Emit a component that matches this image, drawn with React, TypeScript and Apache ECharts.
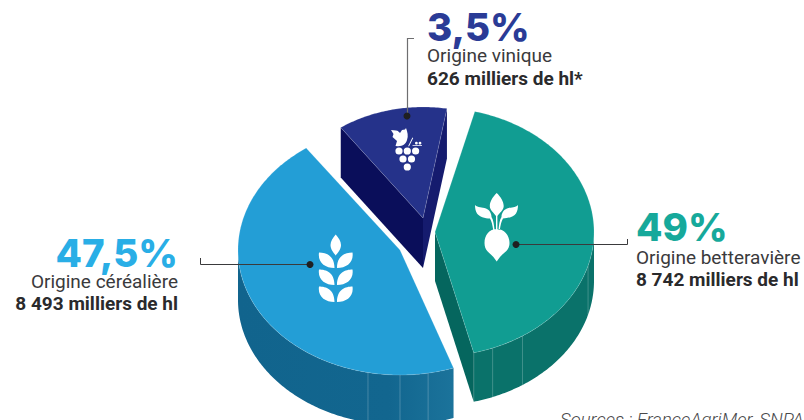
import React, { useEffect, useRef } from "react";
import * as echarts from "echarts";

// ---- data ----
const categories = ["Origine céréalière", "Origine betteravière", "Origine vinique"];
const shareLabels = ["47,5%", "49%", "3,5%"];
const volumeLabels = ["8 493 milliers de hl", "8 742 milliers de hl", "626 milliers de hl*"];
const shares = [47.5, 49, 3.5];
const volumes = [8493, 8742, 626];
// the artwork is not drawn to scale: angle each slice really takes in the picture
const drawnSweeps = [163.9, 151.4, 45.1];
const sourceText = "Sources : FranceAgriMer, SNPAA";

// ---- layout ----
const slices = [
  { cx: 400, cy: 250, rx: 162, ry: 125, start: 160.7, depth: 50, top: "#239ed6", ribs: [191.4, 180, 170],
    wall: ["#11648d", "#12668f", "#1b739b"], cuts: [] as any[] },
  { cx: 435, cy: 232, rx: 159, ry: 124.5, start: 14.5, depth: 49, top: "#119d92", ribs: [165.9, 158.75, 146.6, 105.7],
    wall: ["#0a726a", "#0a726a", "#0a726a"], cuts: [{ edge: "end", fill: "#05665e" }] },
  { cx: 423, cy: 218, rx: 142, ry: 111, start: -35.4, depth: 50, top: "#25328a", ribs: [],
    wall: ["#000", "#000", "#000"], cuts: [{ edge: "start", fill: "#0a0e5a" }, { edge: "end", fill: "#151b6e" }] },
];

const FONT = "Roboto";
const HEAD = "Inter";

const wheatLeaf = (y: number) =>
  `M319 ${y} C326 ${y} 334.5 ${y + 3} 334.5 ${y + 15.5} C325 ${y + 15.5} 317.5 ${y + 10} 319 ${y} Z ` +
  `M352.5 ${y} C345.5 ${y} 337 ${y + 3} 337 ${y + 15.5} C346.5 ${y + 15.5} 354 ${y + 10} 352.5 ${y} Z `;
const wheatPath =
  "M335.7 234.5 C338.5 238 341 241 341 245 C341 249.5 338 252.5 335.7 255.5 C333.4 252.5 330.5 249.5 330.5 245 C330.5 241 333 238 335.7 234.5 Z " +
  wheatLeaf(252.5) + wheatLeaf(269.5) + wheatLeaf(286.5);

const grapeBerry = (x: number, y: number) =>
  `M${x - 3.6} ${y} A3.6 3.6 0 1 1 ${x + 3.6} ${y} A3.6 3.6 0 1 1 ${x - 3.6} ${y} Z `;
const grapePath =
  "M391 130 L396 130.5 C398 130.5 399 132 400 133 L402 130 L405 129.5 L406 128 C407.5 132 408.5 136 407 140 C406 144 402 147 396 146 L395.5 146 L397 141 L392.5 137 L393.5 134 Z " +
  "M408.2 146 L412.4 137.5 L413.2 138 L409 146.5 Z M412.5 145.3 L422 145.3 L422 146 L412.5 146 Z " +
  grapeBerry(399, 151) + grapeBerry(407.3, 151) + grapeBerry(415.6, 151) +
  grapeBerry(403, 159) + grapeBerry(411.5, 159) + grapeBerry(407.3, 167) +
  "M415 143.2 A1.4 1.4 0 1 1 417.8 143.2 A1.4 1.4 0 1 1 415 143.2 Z M418.6 143.2 A1.4 1.4 0 1 1 421.4 143.2 A1.4 1.4 0 1 1 418.6 143.2 Z";

const beetPath =
  "M496.7 229 C504 229 509.5 235 509.5 243 C509.5 251 503 253 500 257 L496.7 261.5 L493.4 257 C490 253 484.5 251 484.5 243 C484.5 235 489.5 229 496.7 229 Z " +
  "M496.7 193 C501 197 503.7 202 503.7 206 C503.7 210 500 212.5 497.4 216 L497.4 230 L496 230 L496 216 C493.5 212.5 489.8 210 489.8 206 C489.8 202 492.5 197 496.7 193 Z " +
  "M475 205 C478 208 482 207 486 208.5 C490 210 491.5 214 491.5 217 C493.5 220 494 225 494.5 230 L493.2 230 C492.5 225 491.5 221 490 218.5 C485 218.5 479 216.5 477 213.5 C475.5 211 475 208 475 205 Z " +
  "M518 205 C515 208 511 207 507 208.5 C503 210 501.5 214 501.5 217 C499.5 220 499 225 498.5 230 L499.8 230 C500.5 225 501.5 221 503 218.5 C508 218.5 514 216.5 516 213.5 C517.5 211 518 208 518 205 Z";

echarts.graphic.registerShape("wheatIcon", echarts.graphic.extendPath(wheatPath, {}));
echarts.graphic.registerShape("grapeIcon", echarts.graphic.extendPath(grapePath, {}));
echarts.graphic.registerShape("beetIcon", echarts.graphic.extendPath(beetPath, {}));

const rad = (d: number) => (d * Math.PI) / 180;
const rim = (s: any, deg: number, dy = 0): number[] => [
  s.cx + s.rx * Math.sin(rad(deg)),
  s.cy - s.ry * Math.cos(rad(deg)) + dy,
];
const arc = (s: any, a: number, b: number, dy = 0) => {
  const n = Math.max(2, Math.ceil(Math.abs(b - a) / 0.75));
  const pts: number[][] = [];
  for (let i = 0; i <= n; i++) pts.push(rim(s, a + ((b - a) * i) / n, dy));
  return pts;
};

const renderItem = (params: any, api: any) => {
  const s = slices[params.dataIndex];
  const sweep = api.value(1) as number;
  const a0 = s.start;
  const a1 = s.start + sweep;
  const children: any[] = [];

  // outer wall: only the part of the rim facing the viewer (90°..270°)
  const w0 = Math.max(a0, 90);
  const w1 = Math.min(a1, 270);
  if (w1 > w0) {
    const pts = [...arc(s, w0, w1), ...arc(s, w1, w0, s.depth)];
    children.push({
      type: "polygon",
      shape: { points: pts },
      style: {
        fill: new echarts.graphic.LinearGradient(0, 0, 1, 0, [
          { offset: 0, color: s.wall[0] },
          { offset: 0.7, color: s.wall[1] },
          { offset: 1, color: s.wall[2] },
        ]),
      },
    });
    s.ribs.forEach((r) => {
      const p = rim(s, r);
      children.push({
        type: "line",
        shape: { x1: p[0], y1: p[1], x2: p[0], y2: p[1] + s.depth },
        style: { stroke: "rgba(255,255,255,0.28)", lineWidth: 0.8 },
      });
    });
  }

  // cut faces
  s.cuts.forEach((c: any) => {
    const p = rim(s, c.edge === "start" ? a0 : a1);
    children.push({
      type: "polygon",
      shape: {
        points: [
          [s.cx, s.cy],
          p,
          [p[0], p[1] + s.depth],
          [s.cx, s.cy + s.depth],
        ],
      },
      style: { fill: c.fill },
    });
  });

  // top face
  children.push({
    type: "polygon",
    shape: { points: [[s.cx, s.cy], ...arc(s, a0, a1)] },
    style: { fill: s.top, stroke: "rgba(255,255,255,0.22)", lineWidth: 0.7 },
  });
  return { type: "group", children };
};

// base is the wanted baseline; zrender places text from its top line
const txt = (x: number, base: number, text: string, font: string, size: number, fill: string, align: string) => ({
  type: "text",
  x,
  y: base - size * 0.88,
  z: 30,
  silent: true,
  style: { text, font, fill, textAlign: align, textVerticalAlign: "top" },
});

const leader = (points: number[][], stroke = "#3a3a3c", lineWidth = 1) => ({
  type: "polyline",
  z: 20,
  silent: true,
  shape: { points },
  style: { stroke, lineWidth, fill: "none" },
});
const dot = (x: number, y: number) => ({
  type: "circle",
  z: 21,
  silent: true,
  shape: { cx: x, cy: y, r: 3.5 },
  style: { fill: "#1f1f21" },
});

const PCT_SIZE = 38.5;
const BODY_SIZE = 19;
const pct = `800 ${PCT_SIZE}px ${HEAD}`;
const reg = `400 ${BODY_SIZE}px ${FONT}`;
const bold = `700 ${BODY_SIZE}px ${FONT}`;

export default function App() {
  const ref = useRef<HTMLDivElement>(null);
  useEffect(() => {
    document.body.style.margin = "0";
    const chart = echarts.init(ref.current!, undefined, { renderer: "svg" });
    chart.setOption({
      animation: false,
      backgroundColor: "#ffffff",
      series: [
        {
          type: "custom",
          coordinateSystem: "none",
          silent: true,
          renderItem,
          data: categories.map((name, i) => ({
            name,
            value: [shares[i], drawnSweeps[i], volumes[i]],
          })),
        },
      ],
      graphic: {
        elements: [
          leader([[200.5, 258], [200.5, 264.5], [310, 264.5]]),
          dot(310, 264.5),
          leader([[516, 244.5], [627.5, 244.5], [627.5, 239]]),
          dot(516, 244.5),
          leader([[414, 38.5], [407.5, 38.5], [407.5, 116]], "#6e6e70", 1.2),
          dot(407, 116),
          { type: "wheatIcon", x: 0, y: 0, z: 15, silent: true, style: { fill: "#fff" } },
          { type: "grapeIcon", x: 0, y: 0, z: 15, silent: true, style: { fill: "#fff" } },
          { type: "beetIcon", x: 0, y: 0, z: 15, silent: true, style: { fill: "#fff" } },

          txt(178, 267, shareLabels[0], pct, PCT_SIZE, "#29aee6", "right"),
          txt(178, 289, categories[0], reg, BODY_SIZE, "#3a3a3c", "right"),
          txt(178, 311, volumeLabels[0], bold, BODY_SIZE, "#2a2a2c", "right"),

          txt(636, 241, shareLabels[1], pct, PCT_SIZE, "#16a99b", "left"),
          txt(636, 265, categories[1], reg, BODY_SIZE, "#3a3a3c", "left"),
          txt(636, 287, volumeLabels[1], bold, BODY_SIZE, "#2a2a2c", "left"),

          txt(427, 41, shareLabels[2], pct, PCT_SIZE, "#2a3b96", "left"),
          txt(427, 63, categories[2], reg, BODY_SIZE, "#3a3a3c", "left"),
          txt(427, 86, volumeLabels[2], bold, BODY_SIZE, "#2a2a2c", "left"),

          txt(560, 426.5, sourceText, `italic 300 18.5px ${FONT}`, 18.5, "#4a4a4c", "left"),
        ],
      },
    });
    return () => chart.dispose();
  }, []);
  return <div ref={ref} style={{ position: "fixed", left: 0, top: 0, width: 804, height: 420 }} />;
}
